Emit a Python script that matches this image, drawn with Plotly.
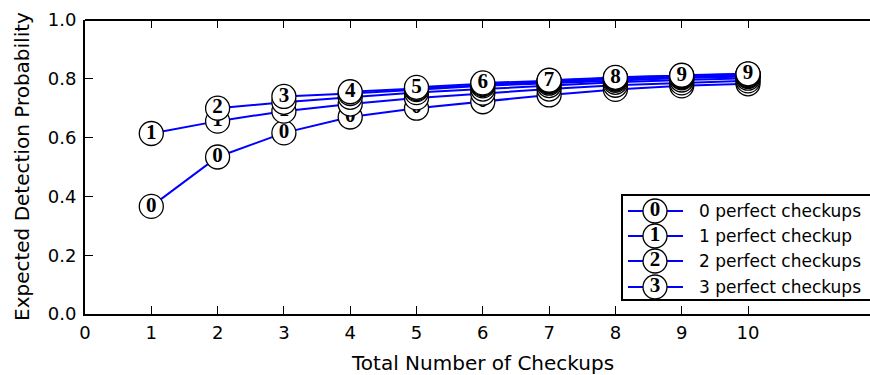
import plotly.graph_objects as go

# ---- data ----
checkups = [1, 2, 3, 4, 5, 6, 7, 8, 9, 10]
series_perfect = [0, 1, 2, 3, 4, 5, 6, 7, 8, 9]
series_values = {
    0: [0.366, 0.534, 0.616, 0.670, 0.700, 0.722, 0.745, 0.764, 0.776, 0.783],
    1: [0.614, 0.656, 0.690, 0.714, 0.735, 0.751, 0.765, 0.778, 0.786, 0.793],
    2: [0.700, 0.720, 0.737, 0.753, 0.765, 0.777, 0.788, 0.796, 0.802],
    3: [0.740, 0.750, 0.763, 0.776, 0.785, 0.795, 0.803, 0.808],
    4: [0.756, 0.767, 0.780, 0.789, 0.799, 0.806, 0.811],
    5: [0.771, 0.783, 0.791, 0.801, 0.808, 0.813],
    6: [0.786, 0.793, 0.803, 0.809, 0.814],
    7: [0.795, 0.804, 0.810, 0.815],
    8: [0.805, 0.811, 0.816],
    9: [0.812, 0.817],
}
legend_labels = ["0 perfect checkups", "1 perfect checkup",
                 "2 perfect checkups", "3 perfect checkups"]
x_ticks = list(range(0, 11))
y_ticks = [0.0, 0.2, 0.4, 0.6, 0.8, 1.0]

BLUE = "#0000ff"
MARK_FONT = dict(family="Liberation Serif", size=21, color="black")

fig = go.Figure()
for k in series_perfect:
    ys = series_values[k]
    xs = checkups[len(checkups) - len(ys):]
    fig.add_trace(go.Scatter(
        x=xs, y=ys, mode="lines+markers+text",
        text=[f"<b>{k}</b>"] * len(ys), textposition="middle center",
        textfont=MARK_FONT,
        line=dict(color=BLUE, width=2),
        marker=dict(symbol="circle", size=24, color="white",
                    line=dict(color="black", width=1.3)),
        cliponaxis=False, showlegend=False, xaxis="x", yaxis="y"))

# ---- manual legend (pixel-space overlay axes) ----
L, T, B = 85, 20, 314
row_y = [211, 236, 261, 287]
fig.add_shape(type="rect", xref="x3", yref="y3", x0=622, x1=880, y0=195, y1=300,
              line=dict(color="black", width=2), fillcolor="white", layer="below")
for i, lab in enumerate(legend_labels):
    fig.add_trace(go.Scatter(
        x=[628, 683], y=[row_y[i], row_y[i]], mode="lines",
        line=dict(color=BLUE, width=2), xaxis="x3", yaxis="y3",
        showlegend=False, cliponaxis=False, hoverinfo="skip"))
    fig.add_trace(go.Scatter(
        x=[655], y=[row_y[i]], mode="markers+text",
        text=[f"<b>{i}</b>"], textposition="middle center", textfont=MARK_FONT,
        marker=dict(symbol="circle", size=24, color="white",
                    line=dict(color="black", width=1.3)),
        xaxis="x3", yaxis="y3", showlegend=False, cliponaxis=False, hoverinfo="skip"))
    fig.add_annotation(x=697, y=row_y[i], xref="x3", yref="y3", text=lab,
                       showarrow=False, xanchor="left", yanchor="middle",
                       font=dict(family="DejaVu Sans", size=17, color="black"))

# top spine
fig.add_shape(type="line", xref="paper", yref="paper", x0=0, x1=1.05, y0=1, y1=1,
              line=dict(color="black", width=2))

fig.add_annotation(x=6, y=(B - 363) / (B - T), xref="x", yref="paper",
                   xanchor="center", yanchor="middle",
                   text="Total Number of Checkups", showarrow=False,
                   font=dict(family="DejaVu Sans", size=20, color="black"))
fig.add_annotation(x=(22 - L) / (870 - L), y=(B - 167) / (B - T), xref="paper", yref="paper",
                   xanchor="center", yanchor="middle",
                   text="Expected Detection Probability", showarrow=False, textangle=-90,
                   font=dict(family="DejaVu Sans", size=20, color="black"))

fig.update_layout(
    width=870, height=375,
    margin=dict(l=L, r=0, t=T, b=375 - B),
    paper_bgcolor="white", plot_bgcolor="white",
    font=dict(family="DejaVu Sans", size=18, color="black"),
    showlegend=False,
    xaxis=dict(range=[0, (870 - L) / 66.3], tickvals=x_ticks, ticks="inside", ticklen=8,
               tickwidth=1, tickcolor="black", showline=True, linecolor="black", linewidth=2,
               showgrid=False, zeroline=False, ticklabelstandoff=1),
    xaxis2=dict(overlaying="x", matches="x", side="top", tickvals=x_ticks, ticks="inside",
                ticklen=8, tickwidth=1, tickcolor="black", showticklabels=False,
                showgrid=False, zeroline=False, showline=False),
    yaxis=dict(range=[0, 1], tickvals=y_ticks, tickformat=".1f", ticks="inside", ticklen=8,
               tickwidth=1, tickcolor="black", showline=True, linecolor="black", linewidth=2,
               showgrid=False, zeroline=False, ticklabelstandoff=3),
    xaxis3=dict(overlaying="x", range=[L, 870], visible=False, fixedrange=True),
    yaxis3=dict(overlaying="y", range=[B, T], visible=False, fixedrange=True),
)
# dummy trace for xaxis2 to render ticks
fig.add_trace(go.Scatter(x=[0], y=[0], xaxis="x2", yaxis="y", mode="markers",
                         marker=dict(opacity=0), showlegend=False, hoverinfo="skip"))

fig.write_html("out.html")
